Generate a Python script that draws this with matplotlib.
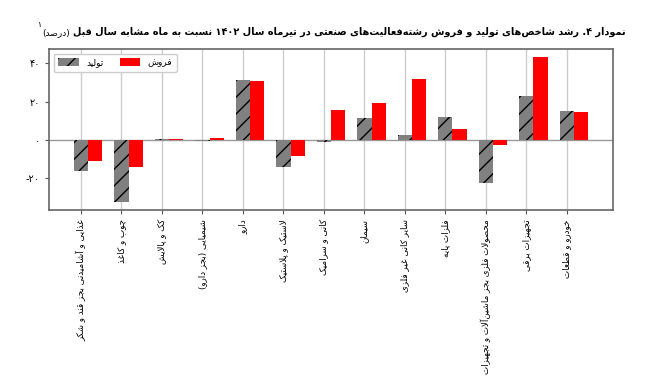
import numpy as np
import matplotlib
matplotlib.use('Agg')
import matplotlib.pyplot as plt

# --- داده‌ها ---
categories = [
    "غذایی و آشامیدنی بجز قند و شکر",
    "چوب و کاغذ",
    "کک و پالایش",
    "شیمیایی (بجز دارو)",
    "دارو",
    "لاستیک و پلاستیک",
    "کانی و سرامیک",
    "سیمان",
    "سایر کانی غیر فلزی",
    "فلزات پایه",
    "محصولات فلزی بجز ماشین\u200cآلات و تجهیزات",
    "تجهیزات برقی",
    "خودرو و قطعات",
]
production = [-16.2, -32.5, 0.5, -0.2, 31.2, -13.8, -1.2, 11.5, 2.8, 12.2, -22.6, 23.0, 15.3]
sales = [-10.8, -14.1, 0.4, 0.9, 30.6, -8.5, 15.8, 19.5, 31.9, 5.9, -2.6, 43.5, 14.8]
ytick_vals = [-20, 0, 20, 40]
ytick_labels = ['-۲۰', '۰', '۲۰', '۴۰']
legend_labels = ['تولید', 'فروش']
title_main = "نمودار ۴. رشد شاخص\u200cهای تولید و فروش رشته\u200cفعالیت\u200cهای صنعتی در تیرماه سال ۱۴۰۲ نسبت به ماه مشابه سال قبل"
title_unit = "(درصد)"
title_note = "۱"

# --- شکل‌دهی ساده حروف فارسی (matplotlib خودش این کار را نمی‌کند) ---
# isolated, final, initial, medial
FORMS = {
    'ا': 'FE8D FE8E', 'آ': 'FE81 FE82', 'د': 'FEA9 FEAA', 'ذ': 'FEAB FEAC',
    'ر': 'FEAD FEAE', 'ز': 'FEAF FEB0', 'ژ': 'FB8A FB8B', 'و': 'FEED FEEE',
    'ب': 'FE8F FE90 FE91 FE92', 'پ': 'FB56 FB57 FB58 FB59', 'ت': 'FE95 FE96 FE97 FE98',
    'ث': 'FE99 FE9A FE9B FE9C', 'ج': 'FE9D FE9E FE9F FEA0', 'چ': 'FB7A FB7B FB7C FB7D',
    'ح': 'FEA1 FEA2 FEA3 FEA4', 'خ': 'FEA5 FEA6 FEA7 FEA8', 'س': 'FEB1 FEB2 FEB3 FEB4',
    'ش': 'FEB5 FEB6 FEB7 FEB8', 'ص': 'FEB9 FEBA FEBB FEBC', 'ض': 'FEBD FEBE FEBF FEC0',
    'ط': 'FEC1 FEC2 FEC3 FEC4', 'ظ': 'FEC5 FEC6 FEC7 FEC8', 'ع': 'FEC9 FECA FECB FECC',
    'غ': 'FECD FECE FECF FED0', 'ف': 'FED1 FED2 FED3 FED4', 'ق': 'FED5 FED6 FED7 FED8',
    'ک': 'FB8E FB8F FB90 FB91', 'گ': 'FB92 FB93 FB94 FB95', 'ل': 'FEDD FEDE FEDF FEE0',
    'م': 'FEE1 FEE2 FEE3 FEE4', 'ن': 'FEE5 FEE6 FEE7 FEE8', 'ه': 'FEE9 FEEA FEEB FEEC',
    'ی': 'FBFC FBFD FBFE FBFF',
}
FORMS = {k: [chr(int(h, 16)) for h in v.split()] for k, v in FORMS.items()}
DUAL = {k for k, v in FORMS.items() if len(v) == 4}
DIGITS = set('0123456789۰۱۲۳۴۵۶۷۸۹')


def fa(text):
    out = []
    i = 0
    n = len(text)
    while i < n:
        c = text[i]
        prev = text[i - 1] if i > 0 else ''
        nxt = text[i + 1] if i + 1 < n else ''
        joined = prev in DUAL
        if c == '\u200c':
            i += 1
            continue
        if c == 'ل' and nxt in ('ا', 'آ'):
            if nxt == 'ا':
                out.append('\uFEFC' if joined else '\uFEFB')
            else:
                out.append('\uFEF6' if joined else '\uFEF5')
            i += 2
            continue
        if c in FORMS:
            f = FORMS[c]
            if c in DUAL:
                nj = nxt in FORMS
                idx = 3 if (joined and nj) else 1 if joined else 2 if nj else 0
            else:
                idx = 1 if joined else 0
            out.append(f[idx])
        else:
            out.append(c)
        i += 1
    vis = ''.join(reversed(out))
    vis = vis.translate(str.maketrans('()', ')('))
    # اعداد چپ به راست می‌مانند
    res, run = [], []
    for ch in vis:
        if ch in DIGITS:
            run.append(ch)
        else:
            res.extend(reversed(run))
            run = []
            res.append(ch)
    res.extend(reversed(run))
    return ''.join(res)


plt.rcParams['font.family'] = ['DejaVu Sans']

fig = plt.figure(figsize=(6.5, 3.8), dpi=100)
ax = fig.add_axes([0.0754, 0.447, 0.8677, 0.424])

x = np.arange(len(categories))
w = 0.35
ax.bar(x, production, w, color='#808080', edgecolor='black', linewidth=0,
       hatch='//', label=fa(legend_labels[0]), zorder=2)
ax.bar(x + w, sales, w, color='#ff0000', linewidth=0,
       label=fa(legend_labels[1]), zorder=2)

ax.axhline(0, color='#999999', linewidth=1.0, zorder=1)
ax.set_xlim(-0.79, 13.14)
ax.set_ylim(-36.5, 47.5)

ax.set_xticks(x)
ax.set_xticklabels([fa(c) for c in categories], rotation=90, fontsize=6.3)
ax.set_yticks(ytick_vals)
ax.set_yticklabels(ytick_labels, fontsize=7)
ax.tick_params(axis='both', length=3, color='#555555', width=0.8)
ax.xaxis.grid(True, color='#cccccc', linewidth=1.0, zorder=0)
ax.set_axisbelow(True)
for s in ax.spines.values():
    s.set_color('#666666')
    s.set_linewidth(1.2)

ax.legend(loc='upper left', ncol=2, fontsize=6.5, handlelength=2.3,
          handleheight=0.9, columnspacing=1.8, framealpha=1, edgecolor='#cccccc',
          borderpad=0.5)

# عنوان: اندازه قلم طوری که عرض آن مثل تصویر اصلی شود
t1 = fig.text(0.962, 0.916, fa(title_main), ha='right', va='center',
              fontsize=8.6, fontweight='bold')
fig.canvas.draw()
bb = t1.get_window_extent()
t1.set_fontsize(8.6 * 552 / bb.width)
fig.canvas.draw()
bb = t1.get_window_extent()
x_left = bb.x0 / fig.bbox.width
t2 = fig.text(x_left - 0.004, 0.914, fa(title_unit), ha='right', va='center', fontsize=6.5)
fig.canvas.draw()
bb2 = t2.get_window_extent()
fig.text(bb2.x0 / fig.bbox.width - 0.002, 0.935, title_note, ha='right', va='center', fontsize=5.5)

plt.savefig('out.png', dpi=100)
plt.close()
